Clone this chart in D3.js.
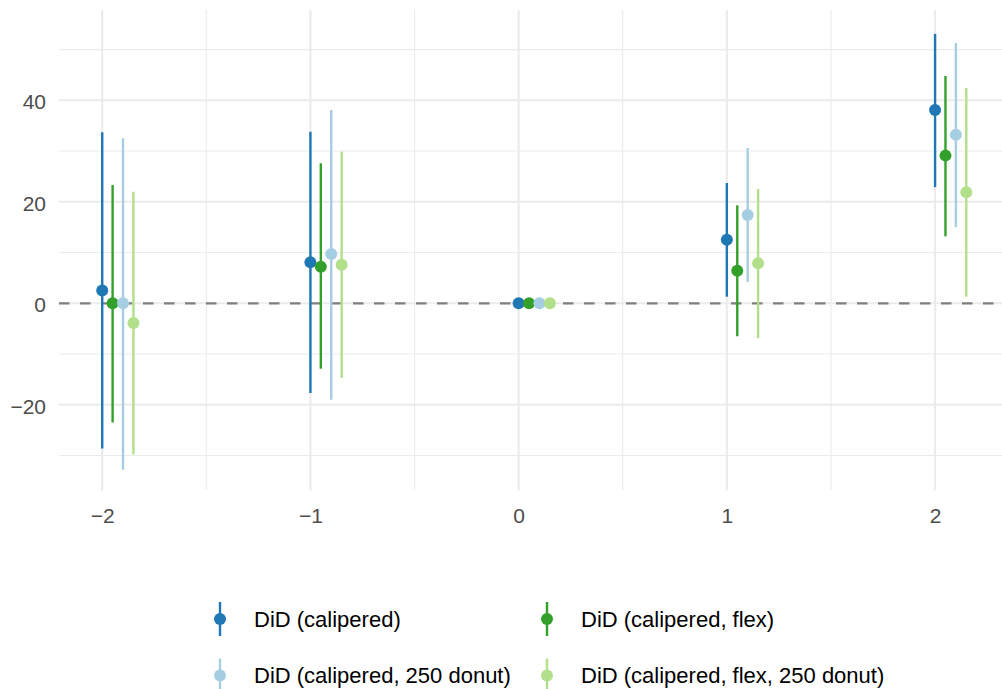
<!DOCTYPE html>
<html>
<head>
<meta charset="utf-8">
<script src="https://cdn.jsdelivr.net/npm/d3@7"></script>
<style>
  body { margin: 0; background: #fff; }
  text { font-family: "Liberation Sans", Arial, sans-serif; }
</style>
</head>
<body>
<svg width="1002" height="689"></svg>
<script>
// event times and the four model series
var periods = [-2, -1, 0, 1, 2];
var seriesNames = ["DiD (calipered)", "DiD (calipered, flex)", "DiD (calipered, 250 donut)", "DiD (calipered, flex, 250 donut)"];
var seriesColors = ["#1F78B4", "#33A02C", "#A6CEE3", "#B2DF8A"];
var dodge = [0, 0.05, 0.1, 0.15];

// estimates, lower and upper CI per series (null = no interval)
var estCal = [2.5, 8.1, 0, 12.5, 38.1];
var lowCal = [-28.6, -17.7, null, 1.3, 22.9];
var upCal = [33.7, 33.8, null, 23.7, 53.1];

var estFlex = [0, 7.2, 0, 6.4, 29.1];
var lowFlex = [-23.5, -12.9, null, -6.5, 13.2];
var upFlex = [23.3, 27.6, null, 19.3, 44.8];

var estDonut = [0, 9.7, 0, 17.4, 33.2];
var lowDonut = [-32.8, -19.0, null, 4.2, 15.0];
var upDonut = [32.5, 38.1, null, 30.6, 51.3];

var estFlexDonut = [-3.9, 7.6, 0, 7.9, 21.9];
var lowFlexDonut = [-29.8, -14.7, null, -6.9, 1.3];
var upFlexDonut = [22.0, 29.9, null, 22.5, 42.4];

var yTicks = [-20, 0, 20, 40];
var yMinor = [-30, -10, 10, 30, 50];
var xMinor = [-1.5, -0.5, 0.5, 1.5];

var allSeries = [
  {est: estCal, low: lowCal, up: upCal},
  {est: estFlex, low: lowFlex, up: upFlex},
  {est: estDonut, low: lowDonut, up: upDonut},
  {est: estFlexDonut, low: lowFlexDonut, up: upFlexDonut}
];

var svg = d3.select("svg");
var panel = {left: 59, right: 1002, top: 10, bottom: 490};

// build point records
var rows = [];
allSeries.forEach(function(s, i) {
  periods.forEach(function(p, j) {
    rows.push({s: i, x: p + dodge[i], est: s.est[j], low: s.low[j], up: s.up[j]});
  });
});

var x = d3.scaleLinear().domain([-2.2075, 2.3575]).range([59, 1009.5]);
var y = d3.scaleLinear().domain([-36.8, 57.8]).range([panel.bottom, panel.top]);

svg.append("clipPath").attr("id", "clip").append("rect")
  .attr("x", panel.left).attr("y", panel.top)
  .attr("width", panel.right - panel.left).attr("height", panel.bottom - panel.top);

var grid = svg.append("g").attr("clip-path", "url(#clip)");

// minor grid
grid.selectAll(".ymin").data(yMinor).enter().append("line")
  .attr("x1", panel.left).attr("x2", panel.right)
  .attr("y1", function(d) { return y(d); }).attr("y2", function(d) { return y(d); })
  .attr("stroke", "#ebebeb").attr("stroke-width", 1.1);
grid.selectAll(".xmin").data(xMinor).enter().append("line")
  .attr("y1", panel.top).attr("y2", panel.bottom)
  .attr("x1", function(d) { return x(d); }).attr("x2", function(d) { return x(d); })
  .attr("stroke", "#ebebeb").attr("stroke-width", 1.1);
// major grid
grid.selectAll(".ymaj").data(yTicks).enter().append("line")
  .attr("x1", panel.left).attr("x2", panel.right)
  .attr("y1", function(d) { return y(d); }).attr("y2", function(d) { return y(d); })
  .attr("stroke", "#ebebeb").attr("stroke-width", 2.1);
grid.selectAll(".xmaj").data(periods).enter().append("line")
  .attr("y1", panel.top).attr("y2", panel.bottom)
  .attr("x1", function(d) { return x(d); }).attr("x2", function(d) { return x(d); })
  .attr("stroke", "#ebebeb").attr("stroke-width", 2.1);

// zero reference line
grid.append("line")
  .attr("x1", panel.left).attr("x2", panel.right)
  .attr("y1", y(0)).attr("y2", y(0))
  .attr("stroke", "#7f7f7f").attr("stroke-width", 2.2)
  .attr("stroke-dasharray", "10.5,10.5");

// axes labels
var minus = function(d) { return d < 0 ? "\u2212" + Math.abs(d) : d; };
var yAxis = d3.axisLeft(y).tickValues(yTicks).tickSize(0).tickPadding(13).tickFormat(minus);
var gy = svg.append("g").attr("transform", "translate(" + panel.left + ",0)").call(yAxis);
gy.select(".domain").remove();
gy.selectAll("text").attr("font-size", 21).attr("fill", "#4d4d4d").attr("dy", "0.4em");

var xAxis = d3.axisBottom(x).tickValues(periods).tickSize(0).tickPadding(18).tickFormat(minus);
var gx = svg.append("g").attr("transform", "translate(0," + panel.bottom + ")").call(xAxis);
gx.select(".domain").remove();
gx.selectAll("text").attr("font-size", 21).attr("fill", "#4d4d4d");

// error bars and points
var marks = svg.append("g");
marks.selectAll(".ci").data(rows.filter(function(d) { return d.low !== null; })).enter().append("line")
  .attr("x1", function(d) { return x(d.x); }).attr("x2", function(d) { return x(d.x); })
  .attr("y1", function(d) { return y(d.low); }).attr("y2", function(d) { return y(d.up); })
  .attr("stroke", function(d) { return seriesColors[d.s]; })
  .attr("stroke-width", 2.4);
marks.selectAll(".pt").data(rows).enter().append("circle")
  .attr("cx", function(d) { return x(d.x); })
  .attr("cy", function(d) { return y(d.est); })
  .attr("r", 6)
  .attr("fill", function(d) { return seriesColors[d.s]; });

// legend
var legendPos = [[220, 619], [547, 619], [220, 675.5], [547, 675.5]];
var legend = svg.append("g").selectAll("g").data(seriesNames).enter().append("g")
  .attr("transform", function(d, i) { return "translate(" + legendPos[i][0] + "," + legendPos[i][1] + ")"; });
legend.append("line")
  .attr("x1", 0).attr("x2", 0).attr("y1", -17).attr("y2", 17)
  .attr("stroke", function(d, i) { return seriesColors[i]; }).attr("stroke-width", 2.4);
legend.append("circle").attr("r", 6)
  .attr("fill", function(d, i) { return seriesColors[i]; });
legend.append("text")
  .attr("x", 34)
  .attr("dy", "0.36em")
  .attr("font-size", 22).attr("fill", "#000")
  .text(function(d) { return d; });
</script>
</body>
</html>
